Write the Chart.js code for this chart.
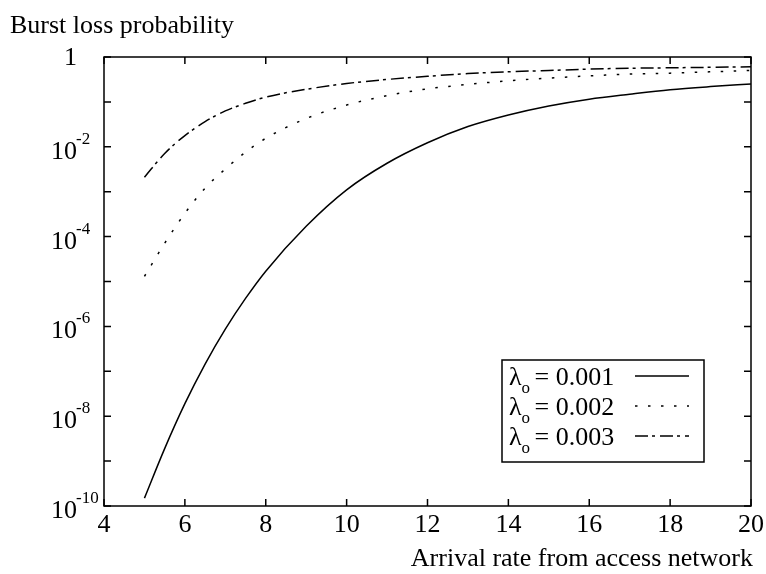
<!DOCTYPE html>
<html>
<head>
<meta charset="utf-8">
<script src="https://cdn.jsdelivr.net/npm/chart.js@4"></script>
<style>
  html, body { margin: 0; padding: 0; background: #fff; }
  #wrap { width: 766px; height: 574px; }
</style>
</head>
<body>
<div id="wrap"><canvas id="lossChart" width="766" height="574"></canvas></div>
<script>
// Arrival rate from access network (x)
const arrivalRates = [5, 5.5, 6, 6.5, 7, 7.5, 8, 9, 10, 11, 12, 13, 14, 15, 16, 17, 18, 19, 20];

// Burst loss probability, one list per lambda_o
const loss001 = [1.5e-10, 1.9e-9, 1.9e-8, 1.45e-7, 8.7e-7, 4.2e-6, 1.7e-5, 1.7e-4, 1.1e-3, 4.3e-3,
                 0.0123, 0.0282, 0.051, 0.081, 0.115, 0.148, 0.186, 0.219, 0.251];
const loss002 = [1.3e-5, 7.1e-5, 3.3e-4, 1.2e-3, 3.2e-3, 7.6e-3, 0.0155, 0.0427, 0.085, 0.138,
                 0.195, 0.245, 0.295, 0.339, 0.380, 0.417, 0.437, 0.468, 0.501];
const loss003 = [2.1e-3, 7.1e-3, 0.0178, 0.0363, 0.063, 0.093, 0.128, 0.191, 0.257, 0.316,
                 0.372, 0.427, 0.468, 0.501, 0.537, 0.562, 0.575, 0.589, 0.603];

const seriesNames = ['0.001', '0.002', '0.003'];
const xTicks = [4, 6, 8, 10, 12, 14, 16, 18, 20];
const yDecades = [0, -1, -2, -3, -4, -5, -6, -7, -8, -9, -10];

const FONT = "'Liberation Serif', 'Times New Roman', serif";
const dashes = [[], [2.5, 10.5], [13, 4, 3, 5]];

function toPoints(ys) {
    return arrivalRates.map((x, i) => ({ x: x, y: ys[i] }));
}

// frame, inward ticks, labels and legend drawn over the chart area
const axesPlugin = {
    id: 'gnuplotAxes',
    afterDraw(chart) {
        const ctx = chart.ctx;
        const xs = chart.scales.x;
        const ys = chart.scales.y;
        const a = chart.chartArea;
        ctx.save();
        ctx.strokeStyle = '#000';
        ctx.fillStyle = '#000';
        ctx.lineWidth = 1.5;
        ctx.setLineDash([]);
        ctx.strokeRect(a.left, a.top, a.right - a.left, a.bottom - a.top);

        const tl = 7;
        ctx.beginPath();
        xTicks.forEach(v => {
            const px = xs.getPixelForValue(v);
            ctx.moveTo(px, a.bottom); ctx.lineTo(px, a.bottom - tl);
            ctx.moveTo(px, a.top); ctx.lineTo(px, a.top + tl);
        });
        yDecades.forEach(k => {
            const py = ys.getPixelForValue(Math.pow(10, k));
            ctx.moveTo(a.left, py); ctx.lineTo(a.left + tl, py);
            ctx.moveTo(a.right, py); ctx.lineTo(a.right - tl, py);
        });
        ctx.stroke();

        // x tick labels
        ctx.font = '26px ' + FONT;
        ctx.textAlign = 'center';
        ctx.textBaseline = 'alphabetic';
        xTicks.forEach(v => {
            ctx.fillText(String(v), xs.getPixelForValue(v), a.bottom + 26);
        });

        // y tick labels with superscript exponents
        yDecades.filter(k => k % 2 === 0).forEach(k => {
            const py = ys.getPixelForValue(Math.pow(10, k));
            ctx.font = '26px ' + FONT;
            ctx.textAlign = 'right';
            if (k === 0) {
                ctx.fillText('1', 77, py + 8);
            } else {
                ctx.fillText('10', 77, py + 12);
                ctx.font = '17px ' + FONT;
                ctx.textAlign = 'left';
                ctx.fillText(String(k), 76, py - 3);
            }
        });

        // axis titles
        ctx.font = '26px ' + FONT;
        ctx.textAlign = 'left';
        ctx.fillText('Burst loss probability', 10, 33);
        ctx.textAlign = 'right';
        ctx.fillText('Arrival rate from access network', 753, 566);

        // legend
        const bx = 502, by = 360, bw = 202, bh = 102;
        ctx.lineWidth = 1.5;
        ctx.strokeRect(bx, by, bw, bh);
        seriesNames.forEach((name, i) => {
            const base = 385 + i * 30;
            ctx.font = '26px ' + FONT;
            ctx.textAlign = 'left';
            ctx.fillText('\u03bb', 509, base);
            const lw = ctx.measureText('\u03bb').width;
            ctx.font = '17px ' + FONT;
            ctx.fillText('o', 509 + lw, base + 8);
            const ow = ctx.measureText('o').width;
            ctx.font = '26px ' + FONT;
            ctx.fillText(' = ' + name, 509 + lw + ow - 2, base);
            ctx.beginPath();
            ctx.lineWidth = 1.5;
            ctx.setLineDash(dashes[i]);
            ctx.moveTo(635, base - 9);
            ctx.lineTo(689, base - 9);
            ctx.stroke();
        });
        ctx.restore();
    }
};

const ctx = document.getElementById('lossChart').getContext('2d');
const chart = new Chart(ctx, {
    type: 'line',
    data: {
        datasets: [loss001, loss002, loss003].map((vals, i) => ({
            label: '\u03bbo = ' + seriesNames[i],
            data: toPoints(vals),
            borderColor: '#000',
            borderWidth: 1.5,
            borderDash: dashes[i],
            pointRadius: 0,
            fill: false,
            cubicInterpolationMode: 'monotone'
        }))
    },
    options: {
        responsive: false,
        animation: false,
        layout: { padding: { left: 104, right: 15, top: 57, bottom: 68 } },
        scales: {
            x: { type: 'linear', min: 4, max: 20, display: false },
            y: { type: 'logarithmic', min: 1e-10, max: 1, display: false }
        },
        plugins: {
            legend: { display: false },
            tooltip: { enabled: false }
        }
    },
    plugins: [axesPlugin]
});
</script>
</body>
</html>
